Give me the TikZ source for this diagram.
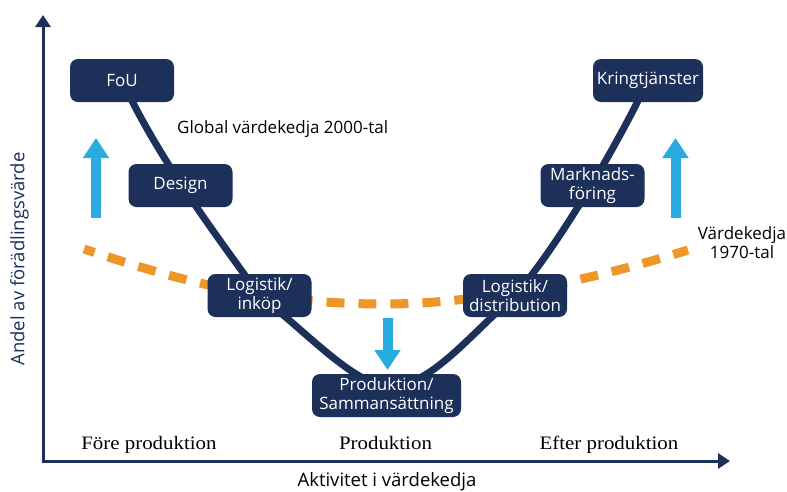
\documentclass[tikz,border=0pt]{standalone}
\usepackage{fontspec}
\newfontfamily\osans{Open Sans}
\newfontfamily\serf[FakeStretch=1.1]{Liberation Serif}
\usetikzlibrary{arrows.meta}
\definecolor{navy}{RGB}{28,48,90}
\definecolor{vorange}{RGB}{238,150,40}
\definecolor{vblue}{RGB}{41,171,226}
\pgfdeclarelayer{bg}
\pgfsetlayers{bg,main}
\begin{document}
\begin{tikzpicture}[x=1pt,y=-1pt,
  box/.style={draw=none, fill=navy, rounded corners=8pt, text=white, minimum height=43pt, minimum width=104pt, inner sep=0pt, align=center, font=\osans\fontsize{17}{19}\selectfont},
  lbl/.style={font=\osans\fontsize{17}{19}\selectfont, text=black, inner sep=0pt, align=center},
  axislbl/.style={font=\osans\fontsize{18.5}{22}\selectfont, inner sep=0pt},
  phase/.style={font=\serf\fontsize{19}{22}\selectfont, inner sep=0pt, anchor=base},
  axisline/.style={draw=navy, line width=3pt, {Triangle[length=12pt,width=15pt]}-{Triangle[length=12pt,width=15pt]}},
  vcurve/.style={draw=navy, line width=7pt},
  oldchain/.style={draw=vorange, line width=9pt, dash pattern=on 18pt off 14pt, dash phase=7pt},
  shiftarrow/.style={draw=vblue, line width=10pt, -{Triangle[length=20pt,width=25pt]}}
]
\useasboundingbox (0,0) rectangle (787,491);

% axes
\coordinate (ytip) at (43,15);
\coordinate (O) at (43,461);
\coordinate (xtip) at (730,461);
\draw[axisline] (ytip) -- (O) -- (xtip);

\node[axislbl, text=navy, rotate=90] (ylab) at (19.5,259) {Andel av förädlingsvärde};
\node[axislbl, text=black] (xlab) at (387,481.5) {Aktivitet i värdekedja};

% phase labels
\node[phase] (pre) at (149,449) {Före produktion};
\node[phase] (prodlbl) at (385.5,449) {Produktion};
\node[phase] (post) at (609,449) {Efter produktion};

% nodes
\node[box] (fou) at (122,80.5) {FoU};
\node[box] (design) at (180.5,185.5) {Design};
\node[box] (loginkop) at (259.5,295.5) {Logistik/\\inköp};
\node[box, minimum width=149pt] (prod) at (386.5,395.5) {Produktion/\\Sammansättning};
\node[box] (logdist) at (515,295.5) {Logistik/\\distribution};
\node[box] (mark) at (592.5,185.5) {Marknads-\\föring};
\node[box, minimum width=110pt] (kring) at (648,80.5) {Kringtjänster};

% texts
\node[lbl, anchor=base west] (global) at (177,133) {Global värdekedja 2000-tal};
\node[lbl] (old) at (742,243) {Värdekedja\\1970-tal};

% curves
\coordinate (vbottom) at (390,386);
\begin{pgfonlayer}{bg}
\draw[oldchain] (84,249) .. controls (174,279) and (260,304) .. (385,304)
                .. controls (480,304) and (593,280) .. (688,250);
\draw[vcurve] (fou.center) .. controls (160,162) and (220,240) .. (loginkop.center)
              .. controls (310,335) and (355,386) .. (vbottom)
              .. controls (430,386) and (465,340) .. (logdist.center)
              .. controls (555,250) and (615,150) .. (kring.center);
\end{pgfonlayer}

% blue arrows
\coordinate (lu0) at (96,218);
\coordinate (lu1) at (96,138);
\coordinate (ru0) at (675.5,218);
\coordinate (ru1) at (675.5,138);
\coordinate (d0) at (387.5,318);
\coordinate (d1) at (387.5,370);
\draw[shiftarrow] (lu0) -- (lu1);
\draw[shiftarrow] (ru0) -- (ru1);
\draw[shiftarrow] (d0) -- (d1);
\end{tikzpicture}
\end{document}
